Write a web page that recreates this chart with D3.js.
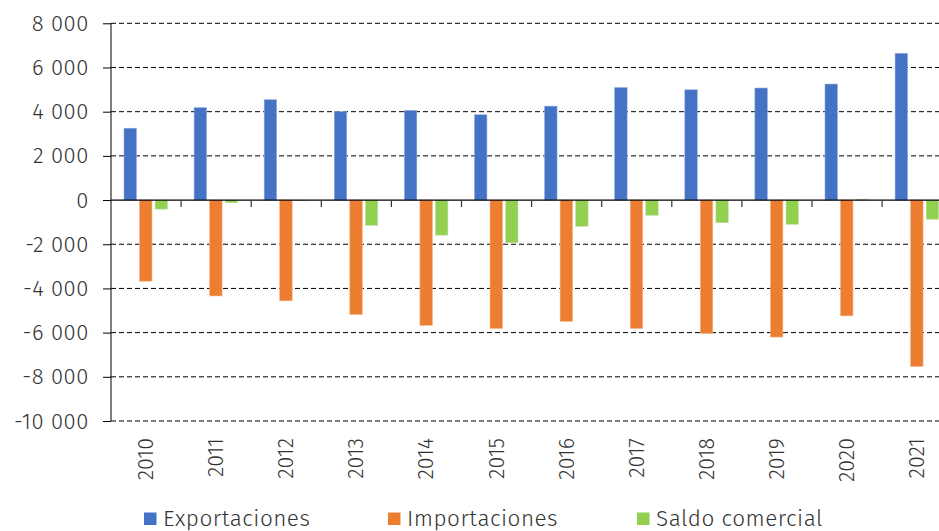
<!DOCTYPE html>
<html><head><meta charset="utf-8">
<script src="https://cdn.jsdelivr.net/npm/d3@7"></script>
<style>
body{margin:0;background:#fff;}
text{font-family:"Fira Sans","Noto Sans","Open Sans",sans-serif;fill:#333;font-weight:300;}
</style></head>
<body><svg id="c" width="939" height="531"></svg>
<script>
const years = ["2010","2011","2012","2013","2014","2015","2016","2017","2018","2019","2020","2021"];
const seriesNames = ["Exportaciones","Importaciones","Saldo comercial"];
const exportaciones = [3250,4180,4540,4000,4060,3860,4250,5090,4990,5070,5250,6640];
const importaciones = [-3670,-4340,-4560,-5180,-5670,-5810,-5490,-5810,-6040,-6200,-5240,-7530];
const saldo = [-410,-120,-20,-1150,-1590,-1930,-1190,-690,-1030,-1100,40,-870];
const yTicks = [8000,6000,4000,2000,0,-2000,-4000,-6000,-8000,-10000];
const colors = ["#4472C4","#ED7D31","#92D050"];
const strokes = ["#8FAADC","#F4B183","#C5E0B4"];

const svg = d3.select("#c");
const x0 = d3.scaleBand().domain(years).range([111, 111+70.1*12]).paddingInner(0).paddingOuter(0);
const x1 = d3.scaleBand().domain(seriesNames).range([13, 56.5]).paddingInner(0.2);
const y = d3.scaleLinear().domain([-10000, 8000]).range([421, 23.3]);
const fmtLabel = v => {
  const s = Math.abs(v).toString();
  const g = s.replace(/\B(?=(\d{3})+(?!\d))/g, " ");
  return (v < 0 ? "-" : "") + g;
};

// gridlines
svg.append("g").selectAll("line").data(yTicks.filter(d => d !== 0)).join("line")
  .attr("x1", 111).attr("x2", 952)
  .attr("y1", d => y(d)).attr("y2", d => y(d))
  .attr("stroke", "#000").attr("stroke-width", 1).attr("stroke-dasharray", "5,3");

// bars
const data = years.map((yr, i) => ({year: yr, vals: [exportaciones[i], importaciones[i], saldo[i]]}));
const g = svg.append("g");
data.forEach(d => {
  d.vals.forEach((v, j) => {
    g.append("rect")
      .attr("x", x0(d.year) + x1(seriesNames[j]))
      .attr("width", x1.bandwidth())
      .attr("y", y(Math.max(0, v)))
      .attr("height", Math.abs(y(v) - y(0)))
      .attr("fill", colors[j])
      .attr("stroke", strokes[j]).attr("stroke-width", 0.6);
  });
});

// y axis
const yAxis = d3.axisLeft(y).tickValues(yTicks).tickSize(8).tickPadding(14).tickFormat(fmtLabel);
const ya = svg.append("g").attr("transform", "translate(111,0)").call(yAxis);
ya.select(".domain").attr("stroke", "#000").attr("d", `M0,${y(8000)}V${y(-10000)}`);
ya.selectAll(".tick line").attr("stroke", "#000");
ya.selectAll(".tick text").style("font-size", "22px").style("letter-spacing", "0.6px").attr("fill", "#333").attr("font-family", null);

// x axis at zero
const xa = svg.append("g").attr("transform", `translate(0,${y(0)})`);
xa.append("line").attr("x1", 111).attr("x2", 952).attr("y1", 0).attr("y2", 0).attr("stroke", "#000").attr("stroke-width", 1.2);
xa.selectAll("line.tk").data(years.slice(1)).join("line").attr("class","tk")
  .attr("x1", d => x0(d)).attr("x2", d => x0(d)).attr("y1", 0).attr("y2", 7)
  .attr("stroke", "#333").attr("stroke-width", 1.2);

// year labels
svg.append("g").selectAll("text").data(years).join("text")
  .attr("transform", d => `translate(${x0(d) + x0.bandwidth()/2 + 7},438) rotate(-90)`)
  .attr("text-anchor", "end")
  .style("font-size", "21.5px")
  .text(d => d);

// legend
const legX = [144, 388, 637];
const lg = svg.append("g");
seriesNames.forEach((n, i) => {
  lg.append("rect").attr("x", legX[i]).attr("y", 512.5).attr("width", 12.5).attr("height", 12.5).attr("fill", colors[i]);
  lg.append("text").attr("x", legX[i] + 19).attr("y", 525.5).style("font-size", "22.5px").style("letter-spacing", "0.5px").text(n);
});
</script></body></html>
